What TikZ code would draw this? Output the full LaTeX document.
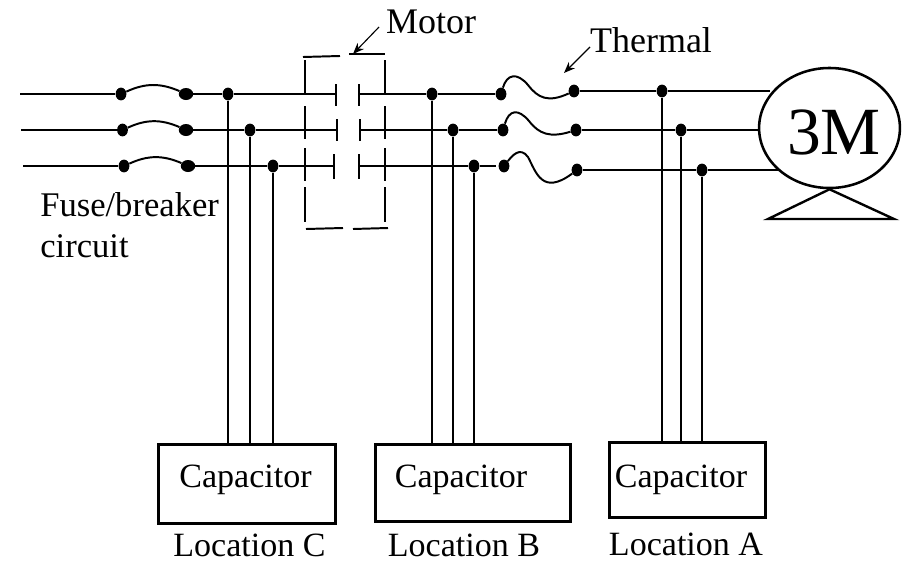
\documentclass[tikz,border=0pt]{standalone}
\usepackage{fontspec}
\setmainfont{Liberation Serif}
\usetikzlibrary{shapes.geometric, arrows.meta}
\tikzset{
  dot/.style={ellipse, fill=black, inner sep=0pt, minimum width=0.27cm, minimum height=0.32cm},
  bigdot/.style={ellipse, fill=black, inner sep=0pt, minimum width=0.36cm, minimum height=0.3cm},
  wire/.style={line width=1.4pt},
  thin wire/.style={line width=1.2pt},
  pointer/.style={-{Stealth[length=0.28cm, width=0.22cm]}, line width=0.8pt},
  capbox/.style={draw, line width=1.9pt, inner sep=0pt, anchor=north west, text depth=0pt},
  label/.style={font=\fontsize{24.2}{29}\selectfont, inner sep=0pt},
  biglabel/.style={font=\fontsize{25.6}{29}\selectfont, inner sep=0pt}
}
\begin{document}
\begin{tikzpicture}[x=0.025cm, y=-0.025cm]
	\useasboundingbox (0,0) rectangle (912,572);

	% motor
	\node[draw, ellipse, line width=1.8pt, minimum width=3.52cm, minimum height=3cm, inner sep=0pt] (motor) at (829.5,128) {};
	\node[inner sep=0pt, font=\fontsize{48}{50}\selectfont] (motorText) at (834,132) {3M};
	\coordinate (mot1) at (770,91);
	\coordinate (mot2) at (759,130);
	\coordinate (mot3) at (778,170);
	\coordinate (footL) at (768,219);
	\coordinate (footR) at (894,219);
	\draw[line width=1.7pt] (motor.south) -- (footL) -- (footR) -- cycle;

	% incoming lines
	\coordinate (in1) at (20,94);
	\coordinate (in2) at (21,130);
	\coordinate (in3) at (23,166);

	% fuses
	\node[dot] (fa1) at (121,94) {};
	\node[dot] (fa2) at (122.5,130) {};
	\node[dot] (fa3) at (124,166) {};
	\node[bigdot] (fb1) at (186,94) {};
	\node[bigdot] (fb2) at (186,130) {};
	\node[bigdot] (fb3) at (188,166) {};

	% tap points
	\node[dot] (c1) at (228,94) {};
	\node[dot] (c2) at (250,130) {};
	\node[dot] (c3) at (273,166) {};
	\node[dot] (b1) at (432,94) {};
	\node[dot] (b2) at (453,130) {};
	\node[dot] (b3) at (474,166) {};
	\node[dot] (a1) at (662,91) {};
	\node[dot] (a2) at (681,130) {};
	\node[dot] (a3) at (702,170) {};

	% thermal relay
	\node[dot] (tha1) at (501,94) {};
	\node[dot] (tha2) at (503,130) {};
	\node[dot] (tha3) at (504,166) {};
	\node[dot] (thb1) at (574,91) {};
	\node[dot] (thb2) at (576,130) {};
	\node[dot] (thb3) at (577,170) {};

	% contactor
	\coordinate (la1) at (336,94);
	\coordinate (la2) at (337,130);
	\coordinate (la3) at (334,166);
	\coordinate (lb1) at (359,94);
	\coordinate (lb2) at (360,130);
	\coordinate (lb3) at (359,166);
	\draw[wire] (336,84) -- (336,106);
	\draw[wire] (337,119) -- (337,141);
	\draw[wire] (334,154) -- (334,179);
	\draw[wire] (359,84) -- (359,106);
	\draw[wire] (360,119) -- (360,141);
	\draw[wire] (359,154) -- (359,179);

	% dashed motor starter box
	\draw[wire] (303,57) -- (340,56);
	\draw[wire] (349,54) -- (385,54);
	\draw[wire] (306,229) -- (343,228);
	\draw[wire] (353,229) -- (388,228);
	\foreach \x in {305,385} {
		\draw[wire] (\x,60) -- (\x,95);
		\draw[wire] (\x,106) -- (\x,139);
		\draw[wire] (\x,148) -- (\x,181);
		\draw[wire] (\x,187) -- (\x,222);
	}

	% main lines
	\draw[wire] (in1) -- (fa1);
	\draw[wire] (in2) -- (fa2);
	\draw[wire] (in3) -- (fa3);
	\draw[wire] (fa1) to[bend left=24] (fb1);
	\draw[wire] (fa2) to[bend left=24] (fb2);
	\draw[wire] (fa3) to[bend left=24] (fb3);
	\draw[wire] (fb1) -- (c1) -- (la1);
	\draw[wire] (fb2) -- (c2) -- (la2);
	\draw[wire] (fb3) -- (c3) -- (la3);
	\draw[wire] (lb1) -- (b1) -- (tha1);
	\draw[wire] (lb2) -- (b2) -- (tha2);
	\draw[wire] (lb3) -- (b3) -- (496,166);
	\draw[wire] (tha1) .. controls (507,74) and (517,72) .. (528,85) .. controls (538,98) and (548,103) .. (thb1);
	\draw[wire] (tha2) .. controls (509,110) and (518,108) .. (529,121) .. controls (539,134) and (550,138) .. (thb2);
	\draw[wire] (tha3) .. controls (512,156) and (520,146) .. (528,157) .. controls (536,172) and (542,196) .. (thb3);
	\draw[wire] (thb1) -- (a1) -- (mot1);
	\draw[wire] (thb2) -- (a2) -- (mot2);
	\draw[wire] (thb3) -- (a3) -- (mot3);

	% capacitors
	\node[capbox, minimum width=4.42cm, minimum height=1.98cm] (capC) at (157,443) {};
	\node[capbox, minimum width=4.88cm, minimum height=1.93cm] (capB) at (374,443) {};
	\node[capbox, minimum width=3.9cm, minimum height=1.88cm] (capA) at (608,441) {};
	\node[label] (txtC) at (245.5,480) {Capacitor};
	\node[label] (txtB) at (461,480) {Capacitor};
	\node[label] (txtA) at (681,480) {Capacitor};
	\node[label] (locC) at (249.5,545) {Location C};
	\node[label] (locB) at (464,545) {Location B};
	\node[label] (locA) at (686,544) {Location A};

	% drops to the capacitors
	\draw[thin wire] (c1) -- (c1 |- capC.north);
	\draw[thin wire] (c2) -- (c2 |- capC.north);
	\draw[thin wire] (c3) -- (c3 |- capC.north);
	\draw[thin wire] (b1) -- (b1 |- capB.north);
	\draw[thin wire] (b2) -- (b2 |- capB.north);
	\draw[thin wire] (b3) -- (b3 |- capB.north);
	\draw[thin wire] (a1) -- (a1 |- capA.north);
	\draw[thin wire] (a2) -- (a2 |- capA.north);
	\draw[thin wire] (a3) -- (a3 |- capA.north);

	% labels
	\node[biglabel] (motorLabel) at (431,22) {Motor};
	\node[biglabel] (thermalLabel) at (651,40) {Thermal};
	\node[label, font=\fontsize{24.6}{29}\selectfont, align=left, anchor=north west] (fuseLabel) at (40,192) {Fuse/breaker\\circuit};
	\coordinate (motorTail) at (379,27);
	\coordinate (motorHead) at (353,54);
	\coordinate (thermalTail) at (590,47);
	\coordinate (thermalHead) at (564,73);
	\draw[pointer] (motorTail) -- (motorHead);
	\draw[pointer] (thermalTail) -- (thermalHead);
\end{tikzpicture}
\end{document}
